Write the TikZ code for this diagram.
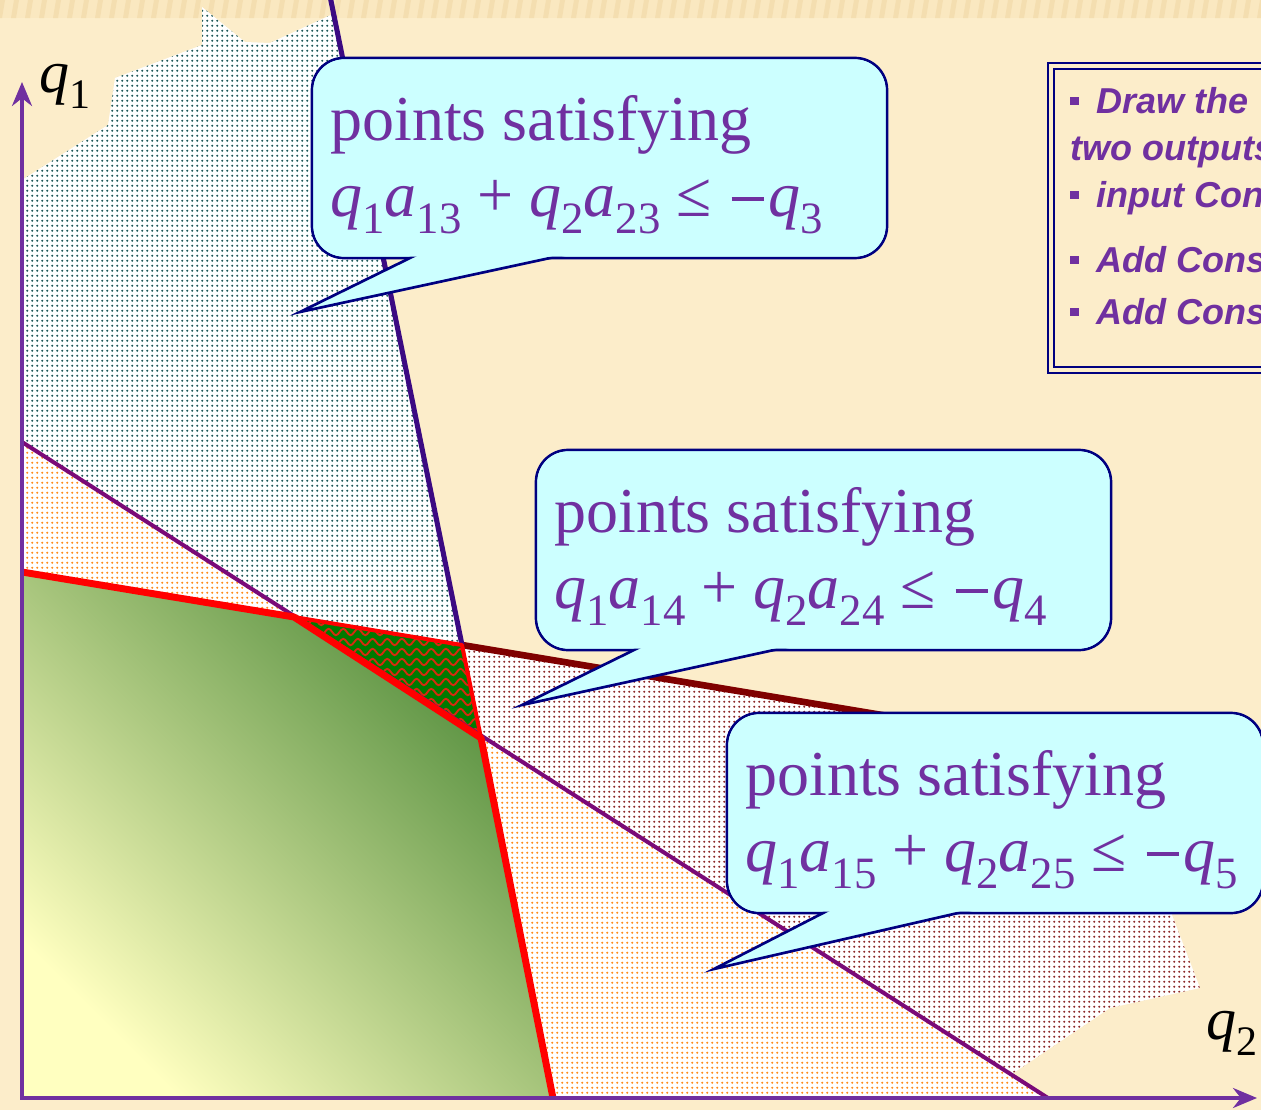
\documentclass[tikz,border=0pt]{standalone}
\usepackage{fontspec}
\setmainfont{Liberation Serif}
\newfontfamily\boxfont{Liberation Sans}
\usepackage{graphicx}
\usetikzlibrary{patterns.meta,decorations.pathmorphing,arrows.meta}
\definecolor{bgc}{HTML}{FCEDCA}
\definecolor{bandc}{HTML}{FAE8C0}
\definecolor{bandst}{HTML}{F4DEB0}
\definecolor{txtp}{HTML}{7030A0}
\definecolor{axisc}{HTML}{7030A0}
\definecolor{calfillc}{HTML}{CCFFFF}
\definecolor{navyc}{HTML}{000080}
\definecolor{indigoc}{HTML}{3C0A82}
\definecolor{maroonc}{HTML}{800000}
\definecolor{lfivec}{HTML}{7A0A78}
\definecolor{tealdot}{HTML}{1E5858}
\definecolor{maroondot}{HTML}{8C2828}
\definecolor{orangedot}{HTML}{FF8C1A}
\definecolor{gdark}{HTML}{4E8A38}
\definecolor{gmid}{HTML}{A8C07A}
\definecolor{glight}{HTML}{FFFFC0}
\definecolor{trig}{HTML}{007A00}
\definecolor{wavec}{HTML}{D82A10}
\tikzdeclarepattern{
  name=pdots,
  type=uncolored,
  bottom left={(0pt,0pt)},
  top right={(3.9pt,3.9pt)},
  tile size={(3.9pt,3.9pt)},
  code={\fill (1.95pt,1.95pt) circle (1.05pt);}
}
\newcommand{\lsb}[1]{\raisebox{-0.28em}{\scalebox{0.7}{#1}}}
\newcommand{\mv}[1]{\textit{#1}}
\newcommand{\lminus}{\hspace{0.06em}\rule[0.24em]{0.5em}{0.055em}\hspace{0.08em}}
\newcommand{\cform}[1]{\mv{q}\lsb{1}\mv{a}\lsb{1#1} + \mv{q}\lsb{2}\mv{a}\lsb{2#1} ≤ \lminus\mv{q}\lsb{#1}}
\newcommand{\bul}{\rule[0.21em]{0.24em}{0.24em}\hspace{0.5em}}
\begin{document}
\begin{tikzpicture}[x=0.75pt,y=-0.75pt,
  dotfill/.style={fill=white, postaction={pattern=pdots, pattern color=#1}},
  callbox/.style={fill=calfillc, draw=navyc, line width=2pt, rounded corners=24pt},
  callinner/.style={fill=calfillc, rounded corners=23pt},
  calltail/.style={fill=calfillc, draw=navyc, line width=2pt, line join=miter},
  ctext/.style={font=\fontsize{48}{58}\selectfont, text=txtp, inner sep=0pt, anchor=base west},
  btext/.style={font=\boxfont\bfseries\itshape\fontsize{27}{32}\selectfont, text=txtp, inner sep=0pt, anchor=base west},
  axlbl/.style={font=\fontsize{45}{54}\selectfont, text=black, inner sep=0pt, anchor=base west},
  axisline/.style={draw=axisc, line width=2.6pt, line cap=rect, -{Stealth[length=18pt,width=15pt]}},
  wave/.style={draw=wavec, line width=1.4pt, decorate, decoration={snake, segment length=11pt, amplitude=2.4pt}},
]
\useasboundingbox (0,0) rectangle (1261,1110);
\clip (0,0) rectangle (1261,1110);
% background
\fill[bgc] (0,0) rectangle (1261,1110);
\fill[bandc] (0,0) rectangle (1261,18);
\foreach \xx in {0,14,...,1274} \fill[bandst] (\xx,0) -- (\xx+5,0) -- (\xx+2,18) -- (\xx-3,18) -- cycle;
% key points
\coordinate (O) at (22,1098);
\coordinate (P0) at (22,572);
\coordinate (A) at (294,617);
\coordinate (B) at (462,645);
\coordinate (C) at (481,738);
\coordinate (D) at (553,1098);
\coordinate (E) at (22,442);
\coordinate (F) at (1048,1098);
\coordinate (T) at (330,-4);
\coordinate (G) at (900,718);
\coordinate (Ytop) at (22,82);
\coordinate (Xend) at (1257,1098);
% dotted regions
\path[dotfill=tealdot] (22,180) -- (108,125) -- (115,78) -- (202,45) -- (202,7) -- (245,42) -- (270,43) -- (333,14) -- (B) -- (A) -- (E) -- cycle;
\path[dotfill=maroondot] (B) -- (1172,763) -- (1172,915) -- (1200,988) -- (1110,1008) -- (1012,1074) -- (C) -- cycle;
\path[dotfill=orangedot] (E) -- (F) -- (O) -- cycle;
% feasible region
\shade[bottom color=glight, middle color=gmid, top color=gdark, shading angle=-45] (P0) -- (A) -- (C) -- (D) -- (O) -- cycle;
% hatched triangle
\begin{scope}
\clip (A) -- (B) -- (C) -- cycle;
\fill[trig] (A) -- (B) -- (C) -- cycle;
\foreach \yy in {612,622,...,742} \draw[wave] (280,\yy) -- (500,\yy);
\end{scope}
% constraint lines
\draw[lfivec, line width=3pt] (E) -- (F);
\draw[maroonc, line width=5pt] (B) -- (G);
\draw[indigoc, line width=3.8pt] (T) -- (B);
\draw[red, line width=5.2pt, line join=round] (P0) -- (A) -- (C) -- (D);
\draw[red, line width=3pt, line join=round] (A) -- (B) -- (C);
% axes
\draw[axisline] (O) -- (Ytop);
\draw[axisline] (O) -- (Xend);
\node[axlbl] (q1) at (39,92) {\mv{q}\lsb{1}};
\node[axlbl] (q2) at (1206,1039) {\mv{q}\lsb{2}};
% callout 1
\path[callbox] (312,58) rectangle (887,258);
\path[calltail] (434.4,246) -- (300,312) -- (605.6,246) -- cycle;
\path[callinner] (313.4,59.4) rectangle (885.6,256.6);
\node[ctext] (c1a) at (330,140) {points satisfying};
\node[ctext] (c1b) at (330,216) {\cform{3}};
% callout 2
\path[callbox] (536,450) rectangle (1111,650);
\path[calltail] (658.4,638) -- (522,705) -- (829,638) -- cycle;
\path[callinner] (537.4,451.4) rectangle (1109.6,648.6);
\node[ctext] (c2a) at (554,532) {points satisfying};
\node[ctext] (c2b) at (554,608) {\cform{4}};
% callout 3
\path[callbox] (727,713) rectangle (1263,913);
\path[calltail] (846.4,901) -- (714,969) -- (1010.3,901) -- cycle;
\path[callinner] (728.4,714.4) rectangle (1261.6,911.6);
\node[ctext] (c3a) at (745,795) {points satisfying};
\node[ctext] (c3b) at (745,871) {\cform{5}};
% right text box
\draw[navyc, line width=2pt] (1048,63) rectangle (1300,373);
\draw[navyc, line width=1.3pt] (1054,69) rectangle (1300,367);
\node[btext] (b1) at (1070,113) {\bul Draw the};
\node[btext] (b2) at (1070,160) {two outputs};
\node[btext] (b3) at (1070,207) {\bul input Con};
\node[btext] (b4) at (1070,272) {\bul Add Cons};
\node[btext] (b5) at (1070,324) {\bul Add Cons};
\end{tikzpicture}
\end{document}
